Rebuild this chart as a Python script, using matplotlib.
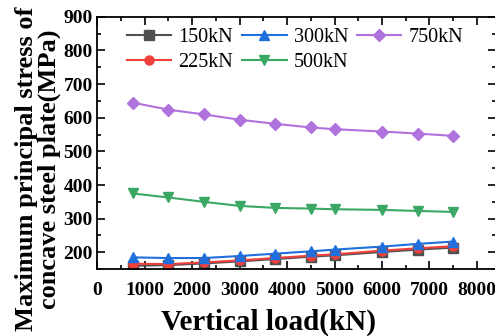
import matplotlib
matplotlib.use("Agg")
import matplotlib.pyplot as plt
from matplotlib.ticker import MultipleLocator

plt.rcParams["font.family"] = ["Liberation Serif", "DejaVu Serif"]

loads = [750, 1500, 2250, 3000, 3750, 4500, 5000, 6000, 6750, 7500]
s150 = [160, 162, 167, 173, 180, 187, 191, 201, 208, 214]
s225 = [166, 165, 170, 176, 183, 190, 194, 205, 212, 218]
s300 = [185, 183, 183, 189, 196, 203, 208, 217, 225, 232]
s500 = [375, 363, 350, 338, 332, 330, 328, 326, 323, 320]
s750 = [645, 624, 610, 594, 582, 571, 566, 559, 553, 546]

series = [
    ("150kN", s150, "#505050", "s"),
    ("225kN", s225, "#f0403c", "o"),
    ("300kN", s300, "#1f6fdc", "^"),
    ("500kN", s500, "#3aa864", "v"),
    ("750kN", s750, "#b072dc", "D"),
]

fig = plt.figure(figsize=(4.95, 3.36), dpi=100)
ax = fig.add_axes([0.196, 0.199, 0.806, 0.751])

for name, vals, col, mk in series:
    ax.plot(loads, vals, color=col, marker=mk, markersize=6.5 if mk != "D" else 6,
            linewidth=1.5, label=name)

ax.set_xlim(0, 8400)
ax.set_ylim(150, 900)
ax.xaxis.set_major_locator(MultipleLocator(1000))
ax.xaxis.set_minor_locator(MultipleLocator(500))
ax.yaxis.set_minor_locator(MultipleLocator(50))
ax.set_yticks([200, 300, 400, 500, 600, 700, 800, 900])
ax.tick_params(which="both", direction="in", top=True, right=True, width=1.2)
ax.tick_params(which="major", length=6, labelsize=14)
ax.tick_params(axis="x", which="major", pad=9)
ax.tick_params(axis="y", which="major", pad=3)
ax.tick_params(which="minor", length=3)
for lab in ax.get_xticklabels() + ax.get_yticklabels():
    lab.set_fontweight("bold")
for sp in ax.spines.values():
    sp.set_linewidth(1.3)

ax.set_xlabel("Vertical load(kN)", fontsize=21, fontweight="bold")
ax.xaxis.set_label_coords(0.43, -0.155)
ax.set_ylabel("Maximum principal stress of\nconcave steel plate(MPa)", fontsize=19,
              fontweight="bold", linespacing=1.0)
ax.yaxis.set_label_coords(-0.09, 0.397)

ax.legend(ncol=3, frameon=False, fontsize=14.5, loc="upper left",
          bbox_to_anchor=(0.04, 1.01), handlelength=2.2, handletextpad=0.35,
          columnspacing=0.45, labelspacing=0.25, borderaxespad=0.3)

fig.savefig("out.png", dpi=100)
